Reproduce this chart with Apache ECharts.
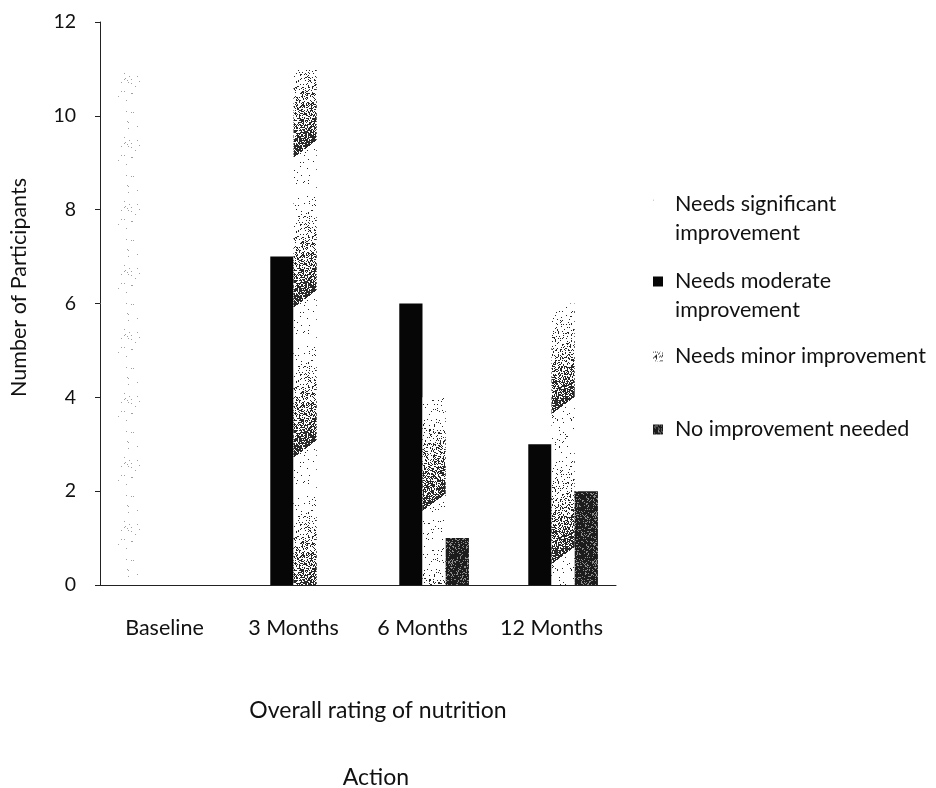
<!DOCTYPE html>
<html>
<head>
<meta charset="utf-8">
<script src="https://cdn.jsdelivr.net/npm/echarts@6/dist/echarts.min.js"></script>
<style>
  html, body { margin: 0; padding: 0; background: #fff; }
  #chart { width: 936px; height: 788px; }
</style>
</head>
<body>
<div id="chart"></div>
<script>
// Ratings over the follow-up visits
const categories = ['Baseline', '3 Months', '6 Months', '12 Months'];
const seriesNames = [
  'Needs significant improvement',
  'Needs moderate improvement',
  'Needs minor improvement',
  'No improvement needed'
];
const significantValues = [11, 0, 0, 0];
const moderateValues = [0, 7, 6, 3];
const minorValues = [0, 11, 4, 6];
const noneValues = [0, 0, 1, 2];
const yTicks = [0, 2, 4, 6, 8, 10, 12];

const FONT = 'Lato, "Open Sans", sans-serif';
const TEXT = '#111';

// deterministic pixel hash used for stippled fills
function hash(x, y) {
  let h = (Math.imul(x, 374761393) + Math.imul(y, 668265263)) >>> 0;
  h = Math.imul(h ^ (h >>> 13), 1274126177) >>> 0;
  return ((h ^ (h >>> 16)) >>> 0) / 4294967296;
}

// build a repeating stipple tile: shade(x, y) returns ink density 0..1
function makeTile(w, h, shade, ink, paper) {
  const c = document.createElement('canvas');
  c.width = w; c.height = h;
  const ctx = c.getContext('2d');
  const img = ctx.createImageData(w, h);
  for (let y = 0; y < h; y++) {
    for (let x = 0; x < w; x++) {
      const d = shade(x, y);
      const v = hash(x, y) < d ? ink : paper;
      const i = (y * w + x) * 4;
      img.data[i] = v; img.data[i + 1] = v; img.data[i + 2] = v; img.data[i + 3] = 255;
    }
  }
  ctx.putImageData(img, 0, 0);
  return c;
}

// sparse light dots
const sparseTile = makeTile(64, 64, () => 0.015, 160, 255);
// diagonal shaded bands ("/"), darkest just above the sharp lower edge of each band
const BAND_H = 150, SLOPE = 0.75, BAND_W = 200, BAND_END = 77, BAND_LEN = 100;
const bandTile = makeTile(BAND_W, BAND_H, (x, y) => {
  const q = ((y + SLOPE * x - BAND_END + BAND_LEN) % BAND_H + BAND_H) % BAND_H;
  if (q < BAND_LEN) return 0.03 + 0.8 * Math.pow(q / BAND_LEN, 1.6);
  return 0.03;
}, 40, 255);
// dark speckled fill
const darkTile = makeTile(48, 48, () => 0.8, 28, 140);

const fills = [
  { image: sparseTile, repeat: 'repeat' },
  '#060606',
  { image: bandTile, repeat: 'repeat' },
  { image: darkTile, repeat: 'repeat' }
];
const values = [significantValues, moderateValues, minorValues, noneValues];

const legendLabels = {
  'Needs significant improvement': 'Needs significant\nimprovement',
  'Needs moderate improvement': 'Needs moderate\nimprovement',
  'Needs minor improvement': 'Needs minor improvement',
  'No improvement needed': 'No improvement needed'
};
const LINE_H = 29;
const ICON = 10;
const legendTops = [190, 267, 342, 415];

// two-line entries: a tall icon box whose square sits at the top, so the
// swatch lines up with the first line of the label
const tallIcon = 'path://M0,0L10,0L10,10L0,10Z M0,' + (ICON + LINE_H) + 'L10,' + (ICON + LINE_H);

const legends = seriesNames.map((name, i) => {
  const twoLine = legendLabels[name].indexOf('\n') >= 0;
  return {
    show: true,
    left: 653,
    top: legendTops[i],
    orient: 'vertical',
    padding: 0,
    itemWidth: ICON,
    itemHeight: twoLine ? ICON + LINE_H : ICON,
    icon: twoLine ? tallIcon : 'rect',
    symbolKeepAspect: false,
    selectedMode: false,
    data: [name],
    formatter: n => legendLabels[n],
    textStyle: {
      fontFamily: FONT,
      fontSize: 21.5,
      color: TEXT,
      lineHeight: LINE_H,
      padding: [0, 0, 0, 7]
    }
  };
});

const chart = echarts.init(document.getElementById('chart'), null, { renderer: 'canvas' });
chart.setOption({
  backgroundColor: '#fff',
  animation: false,
  textStyle: { fontFamily: FONT },
  legend: legends,
  grid: { left: 97, right: 320, top: 22, bottom: 203, containLabel: false },
  xAxis: {
    type: 'category',
    data: categories,
    name: 'Overall rating of nutrition',
    nameLocation: 'middle',
    nameGap: 114,
    nameTextStyle: { fontFamily: FONT, fontSize: 23, color: TEXT, padding: [0, 0, 0, 40] },
    axisLine: { lineStyle: { color: '#222', width: 1 } },
    axisTick: { show: false },
    axisLabel: { interval: 0, hideOverlap: false, fontFamily: FONT, fontSize: 21.5, color: TEXT, margin: 32 }
  },
  yAxis: {
    type: 'value',
    min: yTicks[0],
    max: yTicks[yTicks.length - 1],
    interval: yTicks[1] - yTicks[0],
    name: 'Number of Participants',
    nameLocation: 'middle',
    nameGap: 70,
    nameTextStyle: { fontFamily: FONT, fontSize: 21.5, color: TEXT, padding: [0, 0, 0, 32] },
    splitLine: { show: false },
    axisLine: { show: true, lineStyle: { color: '#222', width: 1 } },
    axisTick: { show: true, length: 5, lineStyle: { color: '#222' } },
    axisLabel: { fontFamily: FONT, fontSize: 19.5, color: TEXT, margin: 24 }
  },
  graphic: [{
    type: 'text',
    x: 376,
    y: 778,
    style: {
      text: 'Action',
      fontFamily: FONT,
      fontSize: 23,
      fill: TEXT,
      align: 'center',
      verticalAlign: 'middle'
    }
  }],
  series: seriesNames.map((name, i) => ({
    name,
    type: 'bar',
    data: values[i],
    barGap: '0%',
    barCategoryGap: '28%',
    itemStyle: { color: fills[i] },
    emphasis: { disabled: true }
  }))
});
</script>
</body>
</html>
